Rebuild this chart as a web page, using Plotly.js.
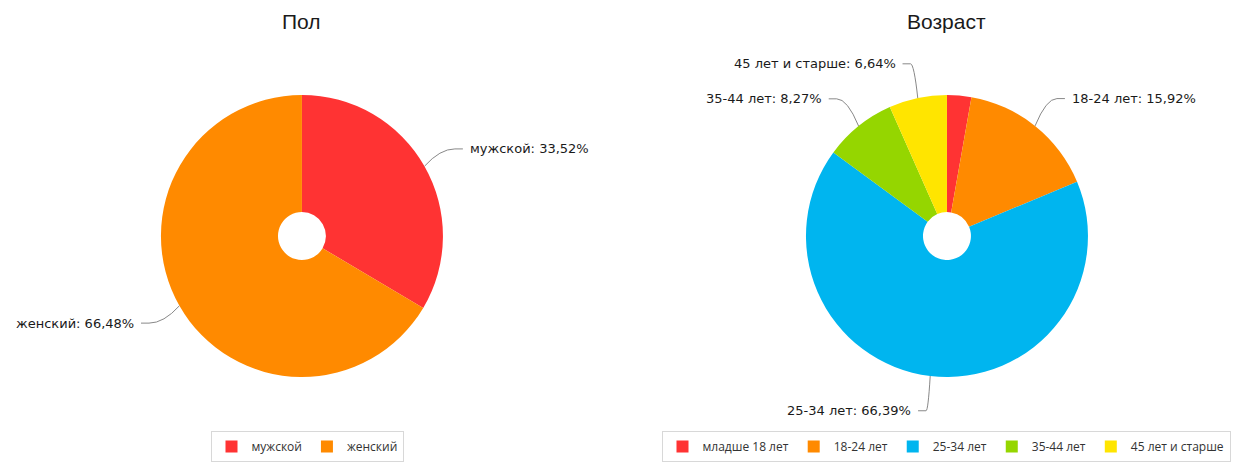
<!DOCTYPE html>
<html><head><meta charset="utf-8">
<script src="https://cdn.plot.ly/plotly-3.0.1.min.js"></script>
<style>html,body{margin:0;padding:0;background:#fff}#c{width:1239px;height:465px}</style>
</head><body><div id="c"></div>
<script>
var genderLabels = ["мужской", "женский"];
var genderValues = [33.52, 66.48];
var genderColors = ["#ff3333", "#ff8a00"];

var ageLabels = ["младше 18 лет", "18-24 лет", "25-34 лет", "35-44 лет", "45 лет и старше"];
var ageValues = [2.78, 15.92, 66.39, 8.27, 6.64];
var ageColors = ["#ff3333", "#ff8a00", "#00b5ef", "#95d600", "#ffe500"];

var W = 1239, H = 465;
var dom1 = {x: [0.1299, 0.3575], y: [0.1892, 0.7957]};
var dom2 = {x: [0.6505, 0.8781], y: [0.1892, 0.7957]};

function pieTrace(labels, values, colors, dom, legend) {
  return {
    type: "pie", labels: labels, values: values, sort: false,
    direction: "clockwise", rotation: 0, hole: 0.17,
    marker: {colors: colors, line: {width: 0}},
    textinfo: "none", hoverinfo: "label+percent",
    domain: dom, legend: legend
  };
}

var shapes = [], annotations = [];
function fmt(v) { return v.toFixed(2).replace(".", ",") + "%"; }
function addLabels(labels, values, dom) {
  var cx = (dom.x[0] + dom.x[1]) / 2 * W;
  var cy = (1 - (dom.y[0] + dom.y[1]) / 2) * H;
  var r = Math.min((dom.x[1] - dom.x[0]) * W, (dom.y[1] - dom.y[0]) * H) / 2;
  var total = values.reduce(function (a, b) { return a + b; }, 0);
  var cum = 0;
  for (var i = 0; i < values.length; i++) {
    var frac = values[i] / total;
    var mid = (cum + frac / 2) * 2 * Math.PI;
    cum += frac;
    if (frac < 0.03) continue;
    var s = Math.sin(mid), c = Math.cos(mid);
    var ex = cx + r * s, ey = cy - r * c;
    var ox = cx + (r + 35) * s, oy = cy - (r + 35) * c;
    var side = s >= 0 ? 1 : -1;
    var mx = cx + (r + 18) * s;
    var tx = ox + side * 8;
    var P = function (x, y) { return (x / W).toFixed(5) + "," + (1 - y / H).toFixed(5); };
    shapes.push({
      type: "path", xref: "paper", yref: "paper",
      path: "M" + P(ex, ey) + " Q" + P(mx, oy) + " " + P(ox, oy) + " L" + P(tx, oy),
      line: {color: "#888888", width: 1}
    });
    annotations.push({
      xref: "paper", yref: "paper", x: (tx + side * 5) / W, y: 1 - oy / H,
      xanchor: side > 0 ? "left" : "right", yanchor: "middle",
      text: labels[i] + ": " + fmt(values[i]), showarrow: false,
      font: {family: "DejaVu Sans, Verdana, sans-serif", size: 13, color: "#1a1a1a"}
    });
  }
}
addLabels(genderLabels, genderValues, dom1);
addLabels(ageLabels, ageValues, dom2);

annotations.push({xref: "paper", yref: "paper", x: (dom1.x[0] + dom1.x[1]) / 2, y: 1 - 21 / H,
  xanchor: "center", yanchor: "middle", showarrow: false, text: "Пол",
  font: {family: "Liberation Sans, Arial, sans-serif", size: 21, color: "#1a1a1a"}});
annotations.push({xref: "paper", yref: "paper", x: (dom2.x[0] + dom2.x[1]) / 2, y: 1 - 21 / H,
  xanchor: "center", yanchor: "middle", showarrow: false, text: "Возраст",
  font: {family: "Liberation Sans, Arial, sans-serif", size: 21, color: "#1a1a1a"}});

var legendStyle = function (xc) {
  return {orientation: "h", x: xc / W, xanchor: "center", y: 3 / H, yanchor: "bottom",
    bgcolor: "#ffffff", bordercolor: "#d8d8d8", borderwidth: 1,
    font: {family: "Open Sans, Noto Sans, sans-serif", size: 12, color: "#333333"},
    itemclick: false, itemdoubleclick: false};
};

var layout = {
  width: W, height: H, margin: {l: 0, r: 0, t: 0, b: 0},
  paper_bgcolor: "#ffffff", plot_bgcolor: "#ffffff",
  showlegend: true,
  legend: legendStyle(307),
  legend2: legendStyle(946),
  shapes: shapes, annotations: annotations
};

Plotly.newPlot("c", [
  pieTrace(genderLabels, genderValues, genderColors, dom1, "legend"),
  pieTrace(ageLabels, ageValues, ageColors, dom2, "legend2")
], layout, {displayModeBar: false, staticPlot: true});
</script></body></html>
